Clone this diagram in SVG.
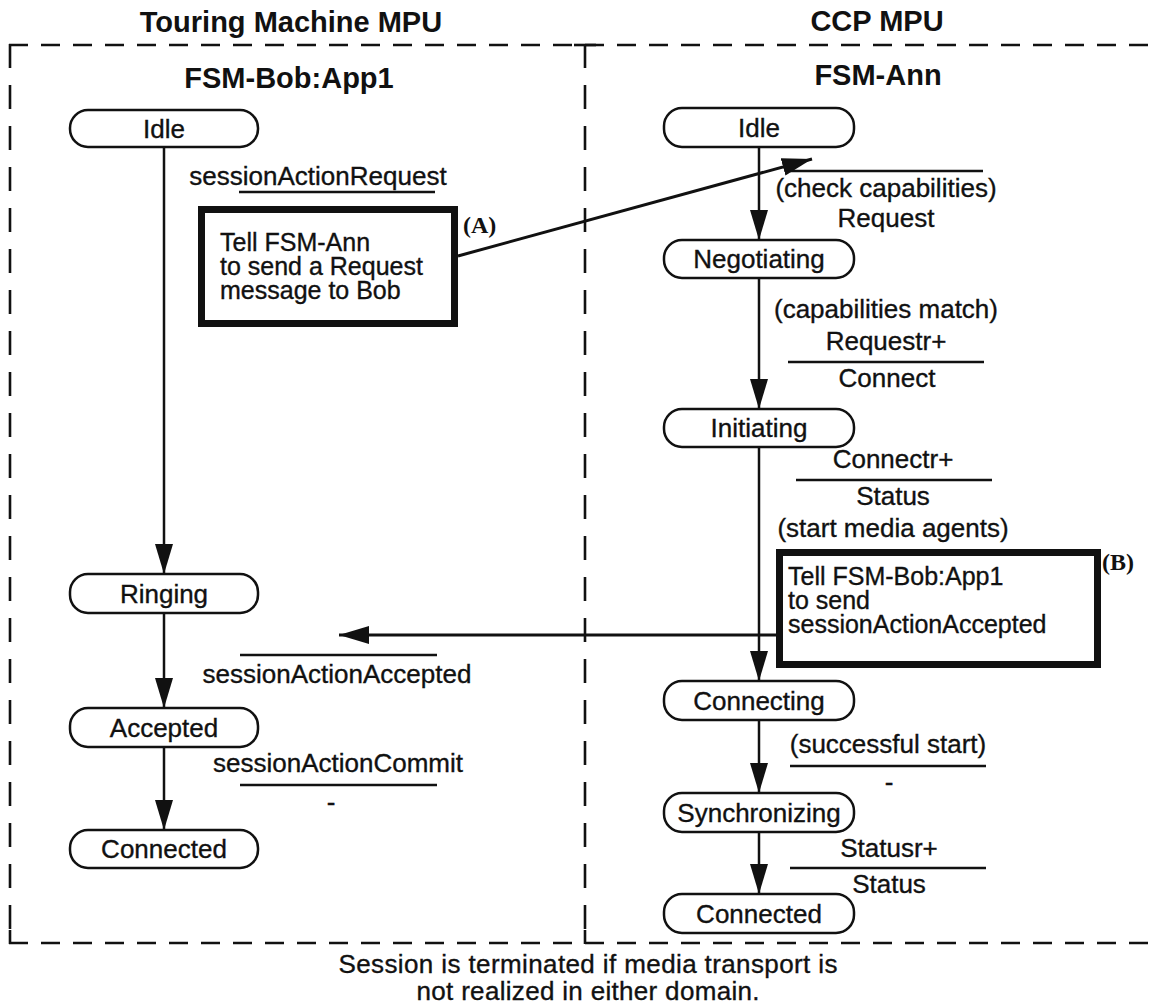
<svg xmlns="http://www.w3.org/2000/svg" width="1157" height="1005" viewBox="0 0 1157 1005">
  <defs>
    <marker id="head" viewBox="0 0 30 18" refX="30" refY="9" markerWidth="30" markerHeight="18" markerUnits="userSpaceOnUse" orient="auto">
      <path d="M0,0 L30,9 L0,18 Z" fill="#111"/>
    </marker>
    <style>
      text { font-family: "Liberation Sans", Arial, Helvetica, sans-serif; fill: #111; }
      .ttl { font-size: 29px; font-weight: bold; text-anchor: middle; }
      .lbl { font-size: 26px; text-anchor: middle; stroke: #111; stroke-width: 0.35; }
      .txt { font-size: 25px; text-anchor: start; stroke: #111; stroke-width: 0.35; }
      .tag { font-family: "Liberation Serif", "Times New Roman", serif; font-size: 24px; font-weight: bold; }
      .state rect { fill: #fff; stroke: #111; stroke-width: 2.5; }
      .action rect { fill: #fff; stroke: #111; stroke-width: 7; }
      .dh { stroke: #111; stroke-width: 2.6; stroke-dasharray: 19 13; fill: none; }
      .dv { stroke: #111; stroke-width: 2.6; stroke-dasharray: 24 17; fill: none; }
      .tick { stroke: #111; stroke-width: 2.6; }
      .conn { stroke: #111; stroke-width: 2.5; fill: none; marker-end: url(#head); }
      .msg { stroke: #111; stroke-width: 3; fill: none; marker-end: url(#head); }
      .bar { stroke: #111; stroke-width: 2.6; }
    </style>
  </defs>

  <rect width="1157" height="1005" fill="#fff"/>

  <!-- domain frame: two dashed compartments -->
  <g id="frame">
    <line class="dh" x1="9" y1="45" x2="1157" y2="45"/>
    <line class="dh" x1="9" y1="943" x2="1157" y2="943"/>
    <line class="dv" x1="10" y1="44" x2="10" y2="943"/>
    <line class="dv" x1="585" y1="44" x2="585" y2="943"/>
    <line class="tick" x1="10" y1="930" x2="10" y2="944"/>
    <line class="tick" x1="574" y1="45" x2="596" y2="45"/>
    <line class="tick" x1="585" y1="930" x2="585" y2="944"/>
  </g>

  <!-- domain and machine titles -->
  <g id="titles">
    <text class="ttl" x="291" y="32">Touring Machine MPU</text>
    <text class="ttl" x="877" y="31">CCP MPU</text>
    <text class="ttl" x="289" y="88">FSM-Bob:App1</text>
    <text class="ttl" x="878" y="85">FSM-Ann</text>
  </g>

  <!-- FSM-Bob:App1 states -->
  <g id="bob-idle" class="state">
    <rect x="70" y="110" width="188" height="37" rx="18" ry="18"/>
    <text class="lbl" x="164" y="137.5">Idle</text>
  </g>
  <g id="bob-ringing" class="state">
    <rect x="70" y="574" width="188" height="39" rx="18" ry="18"/>
    <text class="lbl" x="164" y="602.5">Ringing</text>
  </g>
  <g id="bob-accepted" class="state">
    <rect x="70" y="708" width="188" height="39" rx="18" ry="18"/>
    <text class="lbl" x="164" y="736.5">Accepted</text>
  </g>
  <g id="bob-connected" class="state">
    <rect x="70" y="830" width="188" height="38" rx="18" ry="18"/>
    <text class="lbl" x="164" y="858">Connected</text>
  </g>

  <!-- FSM-Ann states -->
  <g id="ann-idle" class="state">
    <rect x="664" y="108" width="190" height="39" rx="18" ry="18"/>
    <text class="lbl" x="759" y="136.5">Idle</text>
  </g>
  <g id="ann-negotiating" class="state">
    <rect x="664" y="240" width="190" height="38" rx="18" ry="18"/>
    <text class="lbl" x="759" y="268">Negotiating</text>
  </g>
  <g id="ann-initiating" class="state">
    <rect x="664" y="409" width="190" height="38" rx="18" ry="18"/>
    <text class="lbl" x="759" y="437">Initiating</text>
  </g>
  <g id="ann-connecting" class="state">
    <rect x="664" y="681" width="190" height="39" rx="18" ry="18"/>
    <text class="lbl" x="759" y="709.5">Connecting</text>
  </g>
  <g id="ann-synchronizing" class="state">
    <rect x="664" y="793" width="190" height="39" rx="18" ry="18"/>
    <text class="lbl" x="759" y="821.5">Synchronizing</text>
  </g>
  <g id="ann-connected" class="state">
    <rect x="664" y="894" width="190" height="39" rx="18" ry="18"/>
    <text class="lbl" x="759" y="922.5">Connected</text>
  </g>

  <!-- action boxes -->
  <g id="action-a" class="action">
    <rect x="201.5" y="209.5" width="253" height="114"/>
    <text class="txt" x="220" y="251">Tell FSM-Ann<tspan x="220" dy="24">to send a Request</tspan><tspan x="220" dy="24">message to Bob</tspan></text>
    <text class="tag" x="463" y="233">(A)</text>
  </g>
  <g id="action-b" class="action">
    <rect x="779.5" y="552.5" width="318" height="112"/>
    <text class="txt" x="788" y="585">Tell FSM-Bob:App1<tspan x="788" dy="24">to send</tspan><tspan x="788" dy="24">sessionActionAccepted</tspan></text>
    <text class="tag" x="1102" y="570">(B)</text>
  </g>

  <!-- transitions and cross-domain messages -->
  <g id="connectors">
    <line class="conn" x1="164" y1="147" x2="164" y2="574"/>
    <line class="conn" x1="164" y1="613" x2="164" y2="708"/>
    <line class="conn" x1="164" y1="747" x2="164" y2="830"/>
    <line class="conn" x1="759" y1="147" x2="759" y2="240"/>
    <line class="conn" x1="759" y1="278" x2="759" y2="409"/>
    <line class="conn" x1="759" y1="447" x2="759" y2="681"/>
    <line class="conn" x1="759" y1="720" x2="759" y2="793"/>
    <line class="conn" x1="759" y1="832" x2="759" y2="894"/>
    <line class="msg" x1="458" y1="256" x2="812" y2="159"/>
    <line class="msg" x1="776" y1="635" x2="339" y2="635"/>
  </g>

  <!-- transition labels: event over action -->
  <g id="labels">
    <text class="lbl" x="318" y="185">sessionActionRequest</text>
    <line class="bar" x1="239" y1="192" x2="435" y2="192"/>

    <line class="bar" x1="790" y1="171" x2="983" y2="171"/>
    <text class="lbl" x="886" y="197">(check capabilities)</text>
    <text class="lbl" x="886" y="227">Request</text>

    <text class="lbl" x="886" y="318">(capabilities match)</text>
    <text class="lbl" x="886" y="350">Requestr+</text>
    <line class="bar" x1="788" y1="362" x2="984" y2="362"/>
    <text class="lbl" x="887" y="387">Connect</text>

    <text class="lbl" x="893" y="468">Connectr+</text>
    <line class="bar" x1="796" y1="480" x2="992" y2="480"/>
    <text class="lbl" x="893" y="505">Status</text>
    <text class="lbl" x="893" y="537">(start media agents)</text>

    <line class="bar" x1="240" y1="655" x2="437" y2="655"/>
    <text class="lbl" x="337" y="683">sessionActionAccepted</text>

    <text class="lbl" x="338" y="772">sessionActionCommit</text>
    <line class="bar" x1="240" y1="785" x2="437" y2="785"/>
    <text class="lbl" x="331" y="811">-</text>

    <text class="lbl" x="888" y="753">(successful start)</text>
    <line class="bar" x1="790" y1="766" x2="986" y2="766"/>
    <text class="lbl" x="889" y="791">-</text>

    <text class="lbl" x="889" y="857">Statusr+</text>
    <line class="bar" x1="790" y1="868" x2="986" y2="868"/>
    <text class="lbl" x="889" y="893">Status</text>
  </g>

  <!-- footnote -->
  <g id="note">
    <text class="lbl" x="588" y="973" textLength="499" lengthAdjust="spacing">Session is terminated if media transport is</text>
    <text class="lbl" x="588" y="1000" textLength="343" lengthAdjust="spacing">not realized in either domain.</text>
  </g>
</svg>
